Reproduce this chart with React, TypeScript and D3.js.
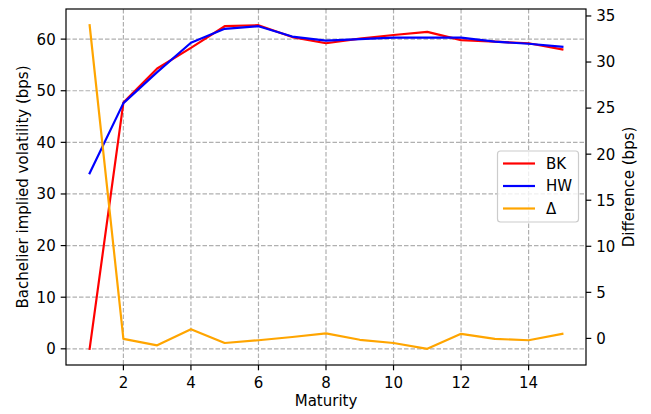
import React from "react";
import * as d3 from "d3";

const maturities = [1, 2, 3, 4, 5, 6, 7, 8, 9, 10, 11, 12, 13, 14, 15];
const bk = [0.0, 47.7, 54.3, 58.3, 62.5, 62.7, 60.4, 59.2, 60.1, 60.8, 61.4, 59.8, 59.5, 59.2, 58.0];
const hw = [34.0, 47.6, 53.6, 59.3, 62.0, 62.5, 60.5, 59.7, 60.0, 60.3, 60.3, 60.3, 59.5, 59.1, 58.5];
const delta = [34.0, -0.05, -0.75, 1.0, -0.5, -0.2, 0.15, 0.55, -0.15, -0.5, -1.13, 0.5, -0.05, -0.2, 0.5];
const xTicks = [2, 4, 6, 8, 10, 12, 14];
const leftTicks = [0, 10, 20, 30, 40, 50, 60];
const rightTicks = [0, 5, 10, 15, 20, 25, 30, 35];
const legendLabels = ["BK", "HW", "Δ"];
const colors = ["#ff0000", "#0000ff", "#ffa500"];

const W = 651, H = 414;
const L = 66, R = 586, T = 9, B = 365;
const FONT = "DejaVu Sans";
const FS = 15;

function padded(vals: number[]): [number, number] {
  const [mn, mx] = d3.extent(vals) as [number, number];
  const p = (mx - mn) * 0.05;
  return [mn - p, mx + p];
}

export default function App() {
  const x = d3.scaleLinear().domain(padded(maturities)).range([L, R]);
  const yL = d3.scaleLinear().domain(padded([...bk, ...hw])).range([B, T]);
  const yR = d3.scaleLinear().domain(padded(delta)).range([B, T]);

  const lineL = d3.line<number>().x((_, i) => x(maturities[i])).y((d) => yL(d));
  const lineR = d3.line<number>().x((_, i) => x(maturities[i])).y((d) => yR(d));

  const tickLen = 5.3;
  const lgX = 497.5, lgY = 151, lgW = 81, lgH = 71;

  return (
    <svg width={W} height={H} style={{ position: "fixed", left: 0, top: 0, background: "#fff" }} fontFamily={FONT}>
      <rect x={0} y={0} width={W} height={H} fill="#fff" />
      {/* grid */}
      <g stroke="#b0b0b0" strokeWidth={1.2} strokeDasharray="4.5,2">
        {xTicks.map((t) => (
          <line key={"gx" + t} x1={x(t)} x2={x(t)} y1={T} y2={B} />
        ))}
        {leftTicks.map((t) => (
          <line key={"gy" + t} x1={L} x2={R} y1={yL(t)} y2={yL(t)} />
        ))}
      </g>
      {/* lines */}
      <path d={lineL(bk) || ""} fill="none" stroke={colors[0]} strokeWidth={2.2} strokeLinejoin="round" strokeLinecap="square" />
      <path d={lineL(hw) || ""} fill="none" stroke={colors[1]} strokeWidth={2.2} strokeLinejoin="round" strokeLinecap="square" />
      <path d={lineR(delta) || ""} fill="none" stroke={colors[2]} strokeWidth={2.2} strokeLinejoin="round" strokeLinecap="square" />
      {/* frame */}
      <rect x={L} y={T} width={R - L} height={B - T} fill="none" stroke="#000" strokeWidth={1.2} />
      {/* x ticks */}
      {xTicks.map((t) => (
        <g key={"xt" + t}>
          <line x1={x(t)} x2={x(t)} y1={B} y2={B + tickLen} stroke="#000" strokeWidth={1.2} />
          <text x={x(t)} y={388} textAnchor="middle" fontSize={FS} fill="#000">{t}</text>
        </g>
      ))}
      {/* left ticks */}
      {leftTicks.map((t) => (
        <g key={"lt" + t}>
          <line x1={L - tickLen} x2={L} y1={yL(t)} y2={yL(t)} stroke="#000" strokeWidth={1.2} />
          <text x={L - tickLen - 5} y={yL(t)} dy="0.36em" textAnchor="end" fontSize={FS} fill="#000">{t}</text>
        </g>
      ))}
      {/* right ticks */}
      {rightTicks.map((t) => (
        <g key={"rt" + t}>
          <line x1={R} x2={R + tickLen} y1={yR(t)} y2={yR(t)} stroke="#000" strokeWidth={1.2} />
          <text x={R + tickLen + 5} y={yR(t)} dy="0.36em" textAnchor="start" fontSize={FS} fill="#000">{t}</text>
        </g>
      ))}
      {/* axis labels */}
      <text x={(L + R) / 2} y={406} textAnchor="middle" fontSize={FS} fill="#000">Maturity</text>
      <text transform={`translate(28,${(T + B) / 2}) rotate(-90)`} textAnchor="middle" fontSize={FS} fill="#000">
        Bachelier implied volatility (bps)
      </text>
      <text transform={`translate(634,${(T + B) / 2}) rotate(-90)`} textAnchor="middle" fontSize={FS} fill="#000">
        Difference (bps)
      </text>
      {/* legend */}
      <rect x={lgX} y={lgY} width={lgW} height={lgH} rx={3} fill="#fff" fillOpacity={0.8} stroke="#cccccc" strokeWidth={1.2} />
      {legendLabels.map((lab, i) => {
        const cy = 163.5 + i * 22.5;
        return (
          <g key={lab}>
            <line x1={503} x2={535} y1={cy} y2={cy} stroke={colors[i]} strokeWidth={2.2} />
            <text x={546} y={cy} dy="0.36em" fontSize={FS} fill="#000">{lab}</text>
          </g>
        );
      })}
    </svg>
  );
}
